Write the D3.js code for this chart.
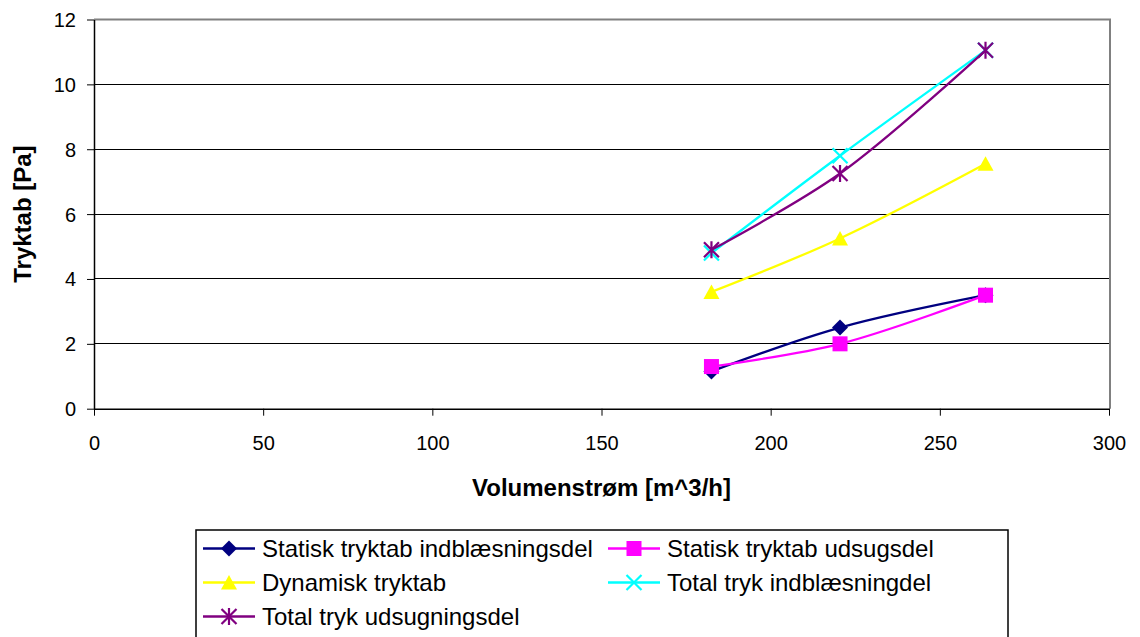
<!DOCTYPE html>
<html><head><meta charset="utf-8">
<script src="https://cdn.jsdelivr.net/npm/d3@7"></script>
<style>body{margin:0;background:#fff}svg{display:block;font-family:"Liberation Sans",Arial,sans-serif}</style>
</head><body><svg id="c" width="1140" height="637"></svg>
<script>
const xValues = [182.5, 220.5, 263.5];
const seriesNames = ["Statisk tryktab indblæsningsdel","Statisk tryktab udsugsdel","Dynamisk tryktab","Total tryk indblæsningdel","Total tryk udsugningsdel"];
const statiskInd = [1.15, 2.5, 3.5];
const statiskUd = [1.3, 2.0, 3.5];
const dynamisk = [3.6, 5.25, 7.55];
const totalInd = [4.8, 7.8, 11.05];
const totalUd = [4.9, 7.25, 11.05];
const xTicks = [0,50,100,150,200,250,300];
const yTicks = [0,2,4,6,8,10,12];
const colors = ["#000080","#ff00ff","#ffff00","#00ffff","#800080"];
const markers = ["diamond","square","triangle","x","star"];
const allSeries = [statiskInd, statiskUd, dynamisk, totalInd, totalUd];

const svg = d3.select("#c");
const L=94, R=1109, T=19.5, B=408.7;
const x = d3.scaleLinear().domain([0,300]).range([L,R]);
const y = d3.scaleLinear().domain([0,12]).range([B,T]);

// gridlines
svg.append("g").selectAll("line").data(yTicks.filter(d=>d>0&&d<12)).join("line")
  .attr("x1",L).attr("x2",R).attr("y1",d=>y(d)).attr("y2",d=>y(d))
  .attr("stroke","#000").attr("stroke-width",1).attr("shape-rendering","crispEdges");
// frame top/right gray
svg.append("path").attr("d",`M${L},${T}H${R+1}V${B}`).attr("fill","none").attr("stroke","#808080").attr("stroke-width",2);

// axes
const xa = svg.append("g").attr("transform",`translate(0,${B})`)
  .call(d3.axisBottom(x).tickValues(xTicks).tickSize(7).tickPadding(20).tickSizeOuter(0));
const ya = svg.append("g").attr("transform",`translate(${L},0)`)
  .call(d3.axisLeft(y).tickValues(yTicks).tickSize(7).tickPadding(11).tickSizeOuter(0));
[xa,ya].forEach(a=>{
  a.select(".domain").attr("stroke","#000").attr("stroke-width",1.5);
  a.selectAll(".tick line").attr("stroke","#000");
  a.selectAll("text").attr("font-family","Liberation Sans, Arial, sans-serif").attr("font-size",20).attr("fill","#000");
});
ya.selectAll("text").attr("dy","0.35em");

svg.append("text").attr("x",(L+R)/2).attr("y",496).attr("text-anchor","middle")
  .attr("font-weight","bold").attr("font-size",24).text("Volumenstrøm [m^3/h]");
svg.append("text").attr("transform",`translate(31,${(T+B)/2}) rotate(-90)`).attr("text-anchor","middle")
  .attr("font-weight","bold").attr("font-size",24).text("Tryktab [Pa]");

function drawMarker(g, type, cx, cy, color){
  if(type==="diamond"){
    g.append("path").attr("d",`M${cx},${cy-8}L${cx+8},${cy}L${cx},${cy+8}L${cx-8},${cy}Z`).attr("fill",color);
  } else if(type==="square"){
    g.append("rect").attr("x",cx-7.5).attr("y",cy-7.5).attr("width",15).attr("height",15).attr("fill",color);
  } else if(type==="triangle"){
    g.append("path").attr("d",`M${cx},${cy-7.5}L${cx+8},${cy+7}L${cx-8},${cy+7}Z`).attr("fill",color);
  } else if(type==="x"){
    g.append("path").attr("d",`M${cx-7.5},${cy-7.5}L${cx+7.5},${cy+7.5}M${cx+7.5},${cy-7.5}L${cx-7.5},${cy+7.5}`).attr("stroke",color).attr("stroke-width",2.2);
  } else if(type==="star"){
    g.append("path").attr("d",`M${cx-7.5},${cy-7.5}L${cx+7.5},${cy+7.5}M${cx+7.5},${cy-7.5}L${cx-7.5},${cy+7.5}M${cx},${cy-8.5}L${cx},${cy+8.5}`).attr("stroke",color).attr("stroke-width",2.2);
  }
}

const line = d3.line().x(d=>x(d[0])).y(d=>y(d[1])).curve(d3.curveCatmullRom.alpha(0.5));
allSeries.forEach((vals,i)=>{
  const pts = xValues.map((xv,j)=>[xv, vals[j]]);
  const g = svg.append("g");
  g.append("path").attr("d",line(pts)).attr("fill","none").attr("stroke",colors[i]).attr("stroke-width",2.3);
  pts.forEach(p=>drawMarker(g, markers[i], x(p[0]), y(p[1]), colors[i]));
});

// legend
const lg = svg.append("g");
lg.append("rect").attr("x",196).attr("y",530).attr("width",812).attr("height",112)
  .attr("fill","#fff").attr("stroke","#000").attr("stroke-width",1.5);
const cols=[203,608], rows=[548.5,582.5,616.5];
seriesNames.forEach((n,i)=>{
  const cx=cols[i%2], cy=rows[Math.floor(i/2)];
  lg.append("line").attr("x1",cx).attr("x2",cx+52).attr("y1",cy).attr("y2",cy).attr("stroke",colors[i]).attr("stroke-width",2.3);
  drawMarker(lg, markers[i], cx+26, cy, colors[i]);
  lg.append("text").attr("x",cx+59).attr("y",cy).attr("dy","0.35em").attr("font-size",24).text(n);
});
</script></body></html>
